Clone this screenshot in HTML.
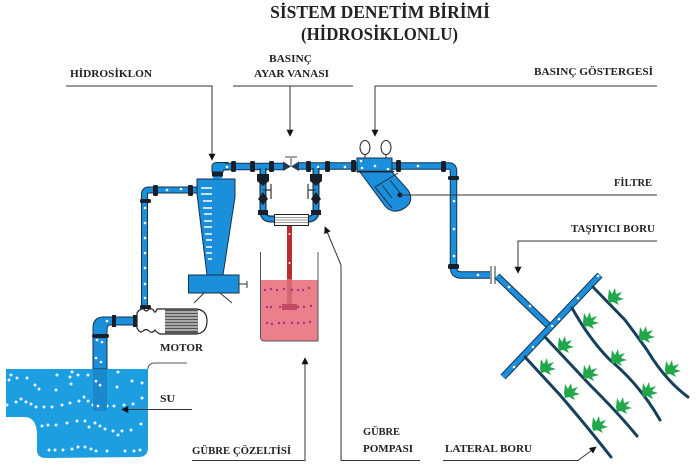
<!DOCTYPE html>
<html><head><meta charset="utf-8"><style>
html,body{margin:0;padding:0;background:#fff}
svg{display:block}
text{font-family:"Liberation Serif",serif;font-weight:bold;fill:#222}
</style></head><body>
<svg width="700" height="465" viewBox="0 0 700 465" xmlns="http://www.w3.org/2000/svg">
<defs>
<marker id="a" viewBox="0 0 10 10" refX="9" refY="5" markerWidth="7" markerHeight="7" orient="auto"><path d="M0 0L10 5L0 10Z" fill="#111"/></marker>
<g id="p" fill="#22a84a"><path d="M0 0L1 -9L4 -4L7 -10L8 -4L14 -6L10 -1L16 1L9 3L11 7L5 4L1 5Z"/></g>
</defs>
<rect width="700" height="465" fill="#fff"/>

<!-- water -->
<path d="M6 369H148V448Q148 457 138 457L46 458Q37 458 37 450V435Q37 417 24 417H6Z" fill="#1c9ee0"/>
<path d="M148 369V368Q149 363 155 363H187" fill="none" stroke="#555" stroke-width="1"/>
<g fill="#e6f7ff">
<circle cx="11" cy="375" r="1.500"/><circle cx="17" cy="378" r="1.500"/><circle cx="27" cy="378" r="1.500"/><circle cx="9" cy="380" r="1.500"/><circle cx="35" cy="385" r="1.500"/><circle cx="39" cy="389" r="1.500"/><circle cx="57" cy="375" r="1.500"/><circle cx="72" cy="372" r="1.500"/><circle cx="70" cy="377" r="1.500"/><circle cx="78" cy="375" r="1.500"/><circle cx="88" cy="375" r="1.500"/><circle cx="71" cy="384" r="1.500"/><circle cx="56" cy="390" r="1.500"/><circle cx="96" cy="382" r="1.500"/><circle cx="101" cy="386" r="1.500"/><circle cx="118" cy="372" r="1.500"/><circle cx="132" cy="381" r="1.500"/><circle cx="142" cy="383" r="1.500"/><circle cx="117" cy="387" r="1.500"/>
<circle cx="7" cy="405" r="1.500"/><circle cx="16" cy="402" r="1.500"/><circle cx="21" cy="399" r="1.500"/><circle cx="26" cy="402" r="1.500"/><circle cx="31" cy="404" r="1.500"/><circle cx="36" cy="407" r="1.500"/><circle cx="44" cy="407" r="1.500"/><circle cx="52" cy="407" r="1.500"/><circle cx="62" cy="405" r="1.500"/><circle cx="70" cy="403" r="1.500"/><circle cx="79" cy="401" r="1.500"/><circle cx="84" cy="397" r="1.500"/><circle cx="88" cy="401" r="1.500"/><circle cx="93" cy="405" r="1.500"/><circle cx="98" cy="406" r="1.500"/><circle cx="107" cy="406" r="1.500"/><circle cx="114" cy="406" r="1.500"/><circle cx="124" cy="405" r="1.500"/><circle cx="133" cy="404" r="1.500"/><circle cx="142" cy="398" r="1.500"/>
<circle cx="42" cy="426" r="1.500"/><circle cx="48" cy="425" r="1.500"/><circle cx="56" cy="425" r="1.500"/><circle cx="67" cy="423" r="1.500"/><circle cx="77" cy="421" r="1.500"/><circle cx="85" cy="421" r="1.500"/><circle cx="95" cy="423" r="1.500"/><circle cx="89" cy="427" r="1.500"/><circle cx="100" cy="426" r="1.500"/><circle cx="105" cy="429" r="1.500"/><circle cx="113" cy="431" r="1.500"/><circle cx="118" cy="435" r="1.500"/><circle cx="122" cy="431" r="1.500"/><circle cx="131" cy="430" r="1.500"/><circle cx="141" cy="424" r="1.500"/>
<circle cx="49" cy="450" r="1.500"/><circle cx="55" cy="450" r="1.500"/><circle cx="63" cy="450" r="1.500"/><circle cx="72" cy="449" r="1.500"/><circle cx="78" cy="447" r="1.500"/><circle cx="85" cy="447" r="1.500"/><circle cx="91" cy="449" r="1.500"/><circle cx="96" cy="451" r="1.500"/><circle cx="107" cy="451" r="1.500"/><circle cx="125" cy="451" r="1.500"/><circle cx="134" cy="451" r="1.500"/><circle cx="140" cy="450" r="1.500"/>
</g>

<!-- intake pipe -->
<path d="M93 369V328Q93 317 104 317H137V325H110Q107 325 107 330V369Z" fill="#1b8fdc" stroke="#17324a" stroke-width="1"/>
<rect x="93" y="369" width="14" height="42" fill="#1a84c8" opacity=".85"/>
<rect x="92" y="334" width="17" height="4" rx="2" fill="#17202a"/>
<rect x="112" y="315" width="4" height="12" fill="#17202a"/><rect x="133" y="315" width="4" height="12" fill="#17202a"/>
<g fill="#fff"><circle cx="107" cy="321" r="1.300"/><circle cx="97" cy="340" r="1.300"/><circle cx="102" cy="342" r="1.300"/><circle cx="96" cy="358" r="1.300"/><circle cx="101" cy="362" r="1.300"/><circle cx="96" cy="381" r="1.300"/><circle cx="100" cy="385" r="1.300"/><circle cx="98" cy="406" r="1.300"/></g>

<!-- motor -->
<path d="M137 313Q140 308 144 309Q146 313 149 309Q152 308 154 311Q155 314 157 309H196Q207 310 207 321Q207 333 196 334H160Q156 332 155 330Q152 334 149 331Q146 328 143 331Q140 334 137 328Z" fill="#fff" stroke="#222" stroke-width="1.200"/>
<rect x="165" y="309" width="33" height="25" fill="#555"/>
<g stroke="#fff" stroke-width="1"><path d="M165 312H198M165 315H198M165 318H198M165 321H198M165 324H198M165 327H198M165 330H198"/></g>

<!-- left riser -->
<path d="M144.500 307V194Q144.500 190 149 190H198" fill="none" stroke="#17324a" stroke-width="7"/>
<path d="M144.500 307V194Q144.500 190 149 190H198" fill="none" stroke="#1b8fdc" stroke-width="5"/>
<rect x="140" y="199" width="11" height="4" rx="1.500" fill="#17202a"/><rect x="140" y="305" width="11" height="4" rx="1.500" fill="#17202a"/>
<rect x="153" y="185" width="5" height="11" rx="1.500" fill="#17202a"/><rect x="188" y="185" width="5" height="11" rx="1.500" fill="#17202a"/>
<g fill="#fff"><circle cx="167" cy="190" r="1.300"/><circle cx="181" cy="189" r="1.300"/><circle cx="145" cy="208" r="1.300"/><circle cx="145" cy="223" r="1.300"/><circle cx="145" cy="238" r="1.300"/><circle cx="145" cy="253" r="1.300"/><circle cx="145" cy="268" r="1.300"/><circle cx="145" cy="284" r="1.300"/><circle cx="145" cy="298" r="1.300"/></g>

<!-- hydrocyclone -->
<path d="M197 179H235V197L223 275H207L197 194Z" fill="#1b8fdc" stroke="#17324a" stroke-width="1"/>
<rect x="188.500" y="275" width="50.500" height="18" fill="#1b8fdc" stroke="#17324a" stroke-width="1"/>
<path d="M239 284H247M247 281V288M204 293L194 303M220 293L232 303" stroke="#333" stroke-width="1" fill="none"/>
<g stroke="#fff" stroke-width="1.500"><path d="M201 188H212M201 194H212M203 201H212M203 208H212M204 214H212M204 221H212M204 227H212M205 234H212M206 240H212M206 247H212M206 253H212M208 259H212"/></g>

<!-- main top pipe -->
<path d="M212 172V167Q212 162.500 217 162.500H228V170H225Q223 170 223 172Z" fill="#1b8fdc" stroke="#17324a" stroke-width="1"/>
<rect x="212" y="172" width="11" height="4.500" fill="#17202a"/><rect x="213" y="176.500" width="9" height="2.500" fill="#1b8fdc"/>
<path d="M225 166.500H284M298 166H449Q453.500 166 453.500 171V267Q453.500 275 461 275H490" fill="none" stroke="#17324a" stroke-width="7.500"/>
<path d="M225 166.500H284M298 166H449Q453.500 166 453.500 171V267Q453.500 275 461 275H490" fill="none" stroke="#1b8fdc" stroke-width="5.500"/>
<path d="M283 161.500L291 166.500L283 171ZM299 161.500L291 166.500L299 171Z" fill="#1b3a55"/>
<path d="M291 166V158M285 157H297" stroke="#444" stroke-width="1"/>
<g fill="#17202a"><rect x="231" y="161" width="5" height="11" rx="1.500"/><rect x="250" y="161" width="5" height="11" rx="1.500"/><rect x="269" y="161" width="5" height="11" rx="1.500"/><rect x="306" y="161" width="5" height="11" rx="1.500"/><rect x="325" y="161" width="5" height="11" rx="1.500"/><rect x="351" y="160" width="5" height="12" rx="1.500"/><rect x="396" y="160" width="5" height="12" rx="1.500"/><rect x="441" y="161" width="5" height="11" rx="1.500"/><rect x="448" y="176" width="11" height="4" rx="1.500"/><rect x="448" y="264" width="11" height="5" rx="1.500"/></g>
<g fill="#fff"><circle cx="227" cy="167" r="1.300"/><circle cx="262" cy="170" r="1.300"/><circle cx="318" cy="167" r="1.300"/><circle cx="345" cy="167" r="1.300"/><circle cx="418" cy="166" r="1.300"/><circle cx="454" cy="201" r="1.300"/><circle cx="454" cy="229" r="1.300"/><circle cx="454" cy="256" r="1.300"/><circle cx="478" cy="275" r="1.300"/></g>
<path d="M491 266V284M495 266V284" stroke="#333" stroke-width="1"/>

<!-- branches -->
<path d="M263 168V211Q263 219 271 219H275M316 168V211Q316 219 308 219H304" fill="none" stroke="#17324a" stroke-width="7"/>
<path d="M263 168V211Q263 219 271 219H275M316 168V211Q316 219 308 219H304" fill="none" stroke="#1b8fdc" stroke-width="4.500"/>
<g fill="#17202a"><path d="M257 174H269V181L263 186L257 181ZM310 174H322V181L316 186L310 181Z"/><path d="M258 199L263 192L268 199L263 205ZM311 199L316 192L321 199L316 205Z"/><rect x="258" y="210" width="10" height="5"/><rect x="311" y="210" width="10" height="5"/></g>
<path d="M263 190H271M271 184V199M316 190H308M308 184V199" stroke="#333" stroke-width="1.200" fill="none"/>
<rect x="274.500" y="214.500" width="34" height="11" fill="#fff" stroke="#222"/>
<path d="M275 217.500H308M275 220H308M275 222.500H308" stroke="#777" stroke-width=".8"/>

<!-- tank -->
<path d="M261 280H318V341H265Q261 341 261 337Z" fill="#ec7f8c"/>
<path d="M260.500 252V337Q260.500 341 265 341H318V252" fill="none" stroke="#555" stroke-width="1"/>
<rect x="287" y="226" width="5" height="53" fill="#b92d30"/>
<rect x="287" y="279" width="5" height="27" fill="#cf6a73"/>
<rect x="282" y="304" width="15" height="6" fill="#c04a60"/>
<g fill="#fff"><circle cx="289.500" cy="234" r="1"/><circle cx="289.500" cy="263" r="1"/></g>
<g fill="#a5337e"><circle cx="265" cy="290" r="1.200"/><circle cx="271" cy="289" r="1.200"/><circle cx="277" cy="290" r="1.200"/><circle cx="284" cy="289" r="1.200"/><circle cx="292" cy="290" r="1.200"/><circle cx="298" cy="290" r="1.200"/><circle cx="303" cy="290" r="1.200"/><circle cx="309" cy="288" r="1.200"/><circle cx="267" cy="307" r="1.200"/><circle cx="271" cy="307" r="1.200"/><circle cx="280" cy="307" r="1.200"/><circle cx="298" cy="307" r="1.200"/><circle cx="304" cy="307" r="1.200"/><circle cx="311" cy="306" r="1.200"/><circle cx="267" cy="323" r="1.200"/><circle cx="272" cy="324" r="1.200"/><circle cx="279" cy="323" r="1.200"/><circle cx="284" cy="323" r="1.200"/><circle cx="292" cy="323" r="1.200"/><circle cx="298" cy="323" r="1.200"/><circle cx="304" cy="323" r="1.200"/><circle cx="310" cy="322" r="1.200"/></g>

<!-- filter -->
<path d="M360 172H392L408 190Q413 198 409 204Q402 212 393 211Q388 210 385 206Z" fill="#1b8fdc" stroke="#17324a" stroke-width="1"/>
<rect x="357" y="158" width="35" height="14" fill="#1b8fdc" stroke="#17324a" stroke-width="1"/>
<path d="M357 171.500H394" stroke="#17202a" stroke-width="1.500"/>
<path d="M375 187L398 173M375 187L392 208M382 185L392 198M390 180L400 193" stroke="#17324a" stroke-width="1" fill="none"/>
<ellipse cx="365" cy="147.500" rx="5" ry="7" fill="#fff" stroke="#222"/><ellipse cx="386" cy="147.500" rx="5" ry="7" fill="#fff" stroke="#222"/>
<path d="M365 155V158M386 155V158" stroke="#222"/>
<g fill="#fff"><circle cx="361" cy="161" r="1.300"/><circle cx="362" cy="168" r="1.300"/><circle cx="375" cy="166" r="1.300"/><circle cx="388" cy="169" r="1.300"/></g>
<circle cx="400" cy="195" r="2.500" fill="#17202a"/>

<!-- distribution -->
<path d="M497 276L550 327" stroke="#17324a" stroke-width="7"/>
<path d="M497 276L550 327" stroke="#1b8fdc" stroke-width="5"/>
<path d="M503 377L600 275" stroke="#17324a" stroke-width="7"/>
<path d="M503 377L600 275" stroke="#1b8fdc" stroke-width="5"/>
<g fill="#fff"><circle cx="509" cy="287" r="1.300"/><circle cx="530" cy="306" r="1.300"/><circle cx="514" cy="367" r="1.300"/><circle cx="533" cy="347" r="1.300"/><circle cx="552" cy="326" r="1.300"/><circle cx="559" cy="319" r="1.300"/><circle cx="578" cy="298" r="1.300"/><circle cx="598" cy="276" r="1.300"/></g>
<g fill="none" stroke="#17405c" stroke-width="3" stroke-linecap="round">
<path d="M525 357L560 395Q590 430 611 457"/>
<path d="M545 337L590 385Q620 415 637 436"/>
<path d="M572 308Q590 340 610 360Q640 385 660 420"/>
<path d="M593 287L625 320Q640 340 647 350Q665 380 688 397"/>
</g>
<use href="#p" x="540" y="368"/><use href="#p" x="564" y="393"/><use href="#p" x="592" y="426"/>
<use href="#p" x="558" y="346"/><use href="#p" x="583" y="374"/><use href="#p" x="616" y="407"/>
<use href="#p" x="583" y="322"/><use href="#p" x="611" y="359"/><use href="#p" x="642" y="392"/>
<use href="#p" x="608" y="298"/><use href="#p" x="639" y="336"/><use href="#p" x="665" y="370"/>

<!-- leaders -->
<g fill="none" stroke="#333" stroke-width="1">
<path d="M66 86H212V160" marker-end="url(#a)"/>
<path d="M233 86H353"/><path d="M290 86V136" marker-end="url(#a)"/>
<path d="M657 86H375V136" marker-end="url(#a)"/>
<path d="M400 195H657"/>
<path d="M657 241H518V273" marker-end="url(#a)"/>
<path d="M192 409.500H122" marker-end="url(#a)"/>
<path d="M192 460.500H305V358" marker-end="url(#a)"/>
<path d="M420 460.500H341V265L325 227" marker-end="url(#a)"/>
<path d="M443 460.500H578L596 447" marker-end="url(#a)"/>
</g>

<!-- labels -->
<text x="380" y="18" font-size="17.500" text-anchor="middle">SİSTEM DENETİM BİRİMİ</text>
<text x="379.500" y="40" font-size="17.500" text-anchor="middle" textLength="157" lengthAdjust="spacingAndGlyphs">(HİDROSİKLONLU)</text>
<g font-size="10.500">
<text x="70" y="77" textLength="82" lengthAdjust="spacingAndGlyphs">HİDROSİKLON</text>
<text x="269" y="62" textLength="43" lengthAdjust="spacingAndGlyphs">BASINÇ</text>
<text x="254" y="77" textLength="75" lengthAdjust="spacingAndGlyphs">AYAR VANASI</text>
<text x="534" y="75" textLength="119" lengthAdjust="spacingAndGlyphs">BASINÇ GÖSTERGESİ</text>
<text x="614" y="186" textLength="38" lengthAdjust="spacingAndGlyphs">FİLTRE</text>
<text x="571" y="232" textLength="84" lengthAdjust="spacingAndGlyphs">TAŞIYICI BORU</text>
<text x="160" y="351" textLength="43" lengthAdjust="spacingAndGlyphs">MOTOR</text>
<text x="160" y="402" textLength="15" lengthAdjust="spacingAndGlyphs">SU</text>
<text x="192" y="454" textLength="99" lengthAdjust="spacingAndGlyphs">GÜBRE ÇÖZELTİSİ</text>
<text x="363" y="435" textLength="37" lengthAdjust="spacingAndGlyphs">GÜBRE</text>
<text x="363" y="452" textLength="50" lengthAdjust="spacingAndGlyphs">POMPASI</text>
<text x="445" y="452" textLength="87" lengthAdjust="spacingAndGlyphs">LATERAL BORU</text>
</g>
</svg>
</body></html>
